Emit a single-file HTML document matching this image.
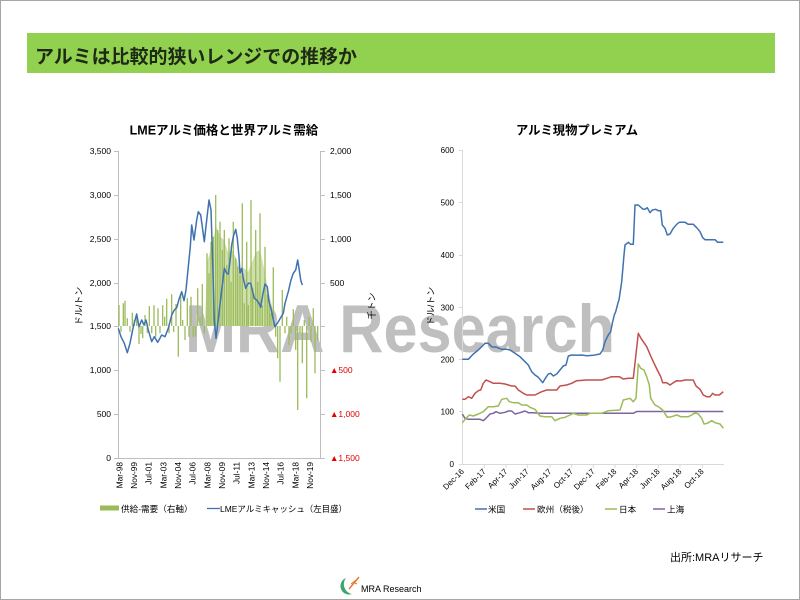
<!DOCTYPE html>
<html><head><meta charset="utf-8">
<style>
html,body{margin:0;padding:0;background:#fff;}
svg{display:block;font-family:"Liberation Sans","Noto Sans CJK JP",sans-serif;}
</style></head>
<body>
<svg width="800" height="600" viewBox="0 0 800 600" xmlns="http://www.w3.org/2000/svg">
<rect x="0.5" y="0.5" width="799" height="599" fill="#fff" stroke="#a6a6a6" stroke-width="1"/>
<!-- title bar -->
<rect x="27" y="33" width="748" height="40" fill="#92d050"/>
<text x="35" y="63" font-size="19" font-weight="bold" fill="#1d2a14" textLength="322" lengthAdjust="spacingAndGlyphs">アルミは比較的狭いレンジでの推移か</text>

<!-- watermark -->
<text x="185" y="352" font-size="68" font-weight="bold" fill="#bfbfbf" textLength="430" lengthAdjust="spacingAndGlyphs">MRA Research</text>

<!-- ============ LEFT CHART ============ -->
<text x="224" y="134.5" font-size="12.5" font-weight="bold" text-anchor="middle" fill="#000">LMEアルミ価格と世界アルミ需給</text>
<g stroke="#bfbfbf" stroke-width="1" fill="none">
<line x1="118.5" y1="151" x2="118.5" y2="458.5"/>
<line x1="320.5" y1="151" x2="320.5" y2="458.5"/>
<line x1="118" y1="458.5" x2="321" y2="458.5"/>
<path d="M114 151.5H118M114 195.5H118M114 239.5H118M114 283.5H118M114 326.5H118M114 370.5H118M114 414.5H118M114 458.5H118"/>
<path d="M321 151.5H325M321 195.5H325M321 239.5H325M321 283.5H325M321 326.5H325M321 370.5H325M321 414.5H325M321 458.5H325"/>
</g>
<g font-size="8.5" fill="#000" text-anchor="end">
<text x="111" y="154">3,500</text>
<text x="111" y="198">3,000</text>
<text x="111" y="242">2,500</text>
<text x="111" y="286">2,000</text>
<text x="111" y="329">1,500</text>
<text x="111" y="373">1,000</text>
<text x="111" y="417">500</text>
<text x="111" y="461">0</text>
</g>
<g font-size="8.5" fill="#000">
<text x="330" y="154">2,000</text>
<text x="330" y="198">1,500</text>
<text x="330" y="242">1,000</text>
<text x="330" y="286">500</text>
</g>
<g font-size="8.5" fill="#e00000">
<text x="330" y="373">▲500</text>
<text x="330" y="417">▲1,000</text>
<text x="330" y="461">▲1,500</text>
</g>
<text transform="translate(82,306) rotate(-90)" font-size="9" text-anchor="middle" fill="#000">ドル/トン</text>
<text transform="translate(375,306) rotate(-90)" font-size="9" text-anchor="middle" fill="#000">千トン</text>
<g font-size="8.3" fill="#000" text-anchor="end">
<text transform="translate(122.3,462) rotate(-90)">Mar-98</text>
<text transform="translate(137,462) rotate(-90)">Nov-99</text>
<text transform="translate(151.6,462) rotate(-90)">Jul-01</text>
<text transform="translate(166.3,462) rotate(-90)">Mar-03</text>
<text transform="translate(181,462) rotate(-90)">Nov-04</text>
<text transform="translate(195.6,462) rotate(-90)">Jul-06</text>
<text transform="translate(210.3,462) rotate(-90)">Mar-08</text>
<text transform="translate(225,462) rotate(-90)">Nov-09</text>
<text transform="translate(239.7,462) rotate(-90)">Jul-11</text>
<text transform="translate(254.3,462) rotate(-90)">Mar-13</text>
<text transform="translate(269,462) rotate(-90)">Nov-14</text>
<text transform="translate(283.7,462) rotate(-90)">Jul-16</text>
<text transform="translate(298.3,462) rotate(-90)">Mar-18</text>
<text transform="translate(313,462) rotate(-90)">Nov-19</text>
</g>
<polygon fill="#cfe0ae" points="205,326 207,262 212,246 216,226 220,236 224,240 228,252 232,250 236,258 240,270 244,268 248,272 252,262 256,252 260,250 264,268 268,290 272,306 274,326"/>
<path fill="none" stroke="#9bbb59" stroke-width="1.3" d="
M119 326V305 M121 326V331.7 M123.3 326V303.3 M125 326V300.7 M127.3 326V318.3 M130 326V331.7 M132.3 326V312.7 M134.3 326V320 M136.7 326V315 M139 326V344 M141 326V334 M142.7 326V338.3 M145 326V315 M147.3 326V333 M149.3 326V306 M151.7 326V333.3 M154 326V305.3 M155.7 326V336.7 M158 326V308.3 M160 326V333.3 M162.7 326V305.3 M164.7 326V316.7 M166.7 326V298.7 M169 326V333.3 M171.7 326V294.3 M173.7 326V332 M176 326V304 M178.3 326V356.7 M180.7 326V295 M182.7 326V320 M185 326V340 M187.3 326V298.3 M189 326V336.7 M191 326V296.7 M193.3 326V336.7 M195.7 326V336.7 M197.7 326V288.3 M200 326V316.7 M202.3 326V284 M204.3 326V333.3 M207 326V253.3 M209 326V273.3 M211 326V241.7 M213.3 326V236.7 M215.7 326V195 M217.7 326V230 M220 326V221.7 M222.3 326V250 M224.3 326V230 M226.7 326V265 M229 326V238.3 M231 326V281.7 M233.3 326V221.7 M235.7 326V258.3 M237.7 326V266.7 M240 326V275 M242.3 326V203.3 M244.3 326V303.3 M246.7 326V241.7 M248.3 326V305 M251 326V200 M252.7 326V288.3 M255.7 326V230 M257.7 326V281.7 M260 326V213.3 M262.3 326V305 M265 326V246.7 M267.3 326V295 M269.3 326V300 M271 326V313.3 M273.3 326V267.3 M275.7 326V336.7 M277.7 326V358.3 M280 326V381.7 M282.3 326V290 M285 326V333.3 M286.7 326V316.7 M289 326V345 M291 326V333.3 M293.3 326V309.3 M295.7 326V350 M297.7 326V410 M300 326V333.3 M302.3 326V363.3 M304.3 326V320 M306.7 326V398.3 M309 326V316.7 M311 326V341.7 M313.3 326V308.3 M315 326V373.3 M317.7 326V340"/>
<polyline fill="none" stroke="#3f72b0" stroke-width="1.5" stroke-linejoin="round" points="
118.3,328.3 121,336.7 124.3,343.3 127.3,352.7 130,343.3 133.3,326.7 136.7,314 139,326.7 141.7,320 144,325 146,320 148.3,330 151.7,341.7 154.3,336.7 157.7,342.3 161.7,335 165,336.7 168.3,328.3 171.7,315 174.3,310 176.7,307.7 179.3,298.3 181.7,291.7 184,300.7 186,290 188.3,266.7 190.3,246.7 191.7,225 194,240 196.7,220 198.3,211.7 200.7,215 202.3,226.7 204.3,241.7 206.7,220 209,200 211,210 212.7,263.3 214.3,320 216,338.3 219,313.3 221.7,290 224.3,268.3 226.7,273.3 228.3,274 230,261.7 231.7,245 233.3,236.7 235.7,229.3 237.3,238.3 239,256.7 240,273.3 241.7,268.3 243.3,278.3 245.7,288.3 248.3,283.3 250.7,283.3 252.7,291.7 254.3,298.3 256.7,300 259,303.3 260.7,307.3 262.7,295 265,284 267.3,286.7 269,301.7 271,308.3 273.3,320 275,326.7 277.7,322.7 280.3,318.3 283.3,313.3 285,303.3 286.7,297.3 288.3,291.7 291,280 293.3,273.3 295.7,270 297.7,260 299,268.3 300.7,280 302.3,285"/>
<rect x="100" y="505.5" width="19" height="5" fill="#9bbb59"/>
<text x="121" y="512" font-size="8.6" fill="#000">供給-需要（右軸）</text>
<line x1="207" y1="508.5" x2="220" y2="508.5" stroke="#3f72b0" stroke-width="1.3"/>
<text x="220" y="512" font-size="8.6" fill="#000" textLength="127" lengthAdjust="spacingAndGlyphs">LMEアルミキャッシュ（左目盛）</text>

<!-- ============ RIGHT CHART ============ -->
<text x="577" y="134.5" font-size="12.3" font-weight="bold" text-anchor="middle" fill="#000">アルミ現物プレミアム</text>
<g stroke="#d9d9d9" stroke-width="1" fill="none">
<line x1="462.5" y1="150" x2="462.5" y2="464.5"/>
<line x1="462" y1="464.5" x2="724" y2="464.5"/>
<path d="M459 150.5H462M459 202.5H462M459 255.5H462M459 307.5H462M459 359.5H462M459 411.5H462M459 464.5H462"/>
<path d="M484.3 464V468M506 464V468M527.3 464V468M550 464V468M571.7 464V468M593.3 464V468M615 464V468M636.7 464V468M658.3 464V468M680 464V468M702.3 464V468"/>
</g>
<g font-size="8" fill="#000" text-anchor="end">
<text x="454" y="153">600</text>
<text x="454" y="205.3">500</text>
<text x="454" y="258">400</text>
<text x="454" y="310.3">300</text>
<text x="454" y="362.3">200</text>
<text x="454" y="414.7">100</text>
<text x="454" y="467">0</text>
</g>
<text transform="translate(434,306) rotate(-90)" font-size="9" text-anchor="middle" fill="#000">ドル/トン</text>
<g font-size="8" fill="#000" text-anchor="end">
<text transform="translate(464.5,472) rotate(-45)">Dec-16</text>
<text transform="translate(486.3,472) rotate(-45)">Feb-17</text>
<text transform="translate(508,472) rotate(-45)">Apr-17</text>
<text transform="translate(529.3,472) rotate(-45)">Jun-17</text>
<text transform="translate(552,472) rotate(-45)">Aug-17</text>
<text transform="translate(573.7,472) rotate(-45)">Oct-17</text>
<text transform="translate(595.3,472) rotate(-45)">Dec-17</text>
<text transform="translate(617,472) rotate(-45)">Feb-18</text>
<text transform="translate(638.7,472) rotate(-45)">Apr-18</text>
<text transform="translate(660.3,472) rotate(-45)">Jun-18</text>
<text transform="translate(682,472) rotate(-45)">Aug-18</text>
<text transform="translate(704.3,472) rotate(-45)">Oct-18</text>
</g>
<polyline fill="none" stroke="#7f63a1" stroke-width="1.5" stroke-linejoin="round" points="462.3,414 465,418.3 468.3,419.3 480,419.3 483.3,420.7 486,418.3 490,414 493.3,413.3 496,411.7 500,413.3 505,412.3 508.3,411 511.7,411 515,414 520,412.7 525,411 528.3,412.7 533.3,412.7 540,413.3 546.7,413.3 560,413.3 633.3,413.3 636.7,411.5 723.3,411.5"/>
<polyline fill="none" stroke="#9bbb59" stroke-width="1.5" stroke-linejoin="round" points="462.3,422.7 466,418.3 469.3,415 473.3,416 478.3,414 483.3,411.7 488.3,406.7 493.3,406.7 498.3,406 501.7,399.3 506.7,398.3 509.3,401.7 513.3,402.7 518.3,402.7 521.7,405 526.7,405 530,407.3 535,409.3 540,416 545,416.7 551.7,416.7 555,420.7 560,418.3 565,417.3 570,415 573.3,413.3 578.3,415 586.7,415 590,413.3 601.7,413.3 608.3,410.7 620,410 623.3,400 630,398.3 633.3,401.7 636,398.3 638.3,364 640.7,368.3 644,370 646.7,376.7 649.3,385 650.7,398.3 655,405 658.3,406.7 662.7,410 667.3,417.3 671.7,416.7 676.7,415 680.7,416.7 688.3,416.7 691.7,415 695,412.7 698.3,414 701.7,418.3 704,424 707.3,423.3 711.7,420.7 715,422.7 720,424 723.3,428.3"/>
<polyline fill="none" stroke="#c0504d" stroke-width="1.5" stroke-linejoin="round" points="462.3,399.3 465,399.3 468.3,396.7 471.7,398.3 475,393.3 478.3,390.7 480.7,390 483.3,383.3 486,380 490,381.7 493.3,383.3 500,383.3 505,384 511.7,386 515,386 518.3,390 523.3,393.3 526.7,395 535,395 541.7,391.7 546.7,390 556.7,390 560,386 566.7,385 571.7,383.3 576.7,380.7 586.7,380 601.7,380 606.7,378.3 611.7,376.7 619.3,376.7 623.3,379 628.3,378.3 633.3,378.3 635.7,356.7 638.3,333.3 641,338.3 643.3,341.7 646.7,346.7 650.7,356 653.3,361.7 657.3,370 660.7,376.7 662.7,382.7 666.7,382.7 670,385 674,382.3 676.7,380.7 680.7,381 685,380 693.3,380 696,386 700,389.3 703.3,395 706.7,396.7 710,396.7 712.7,393.3 715,395 719.3,395 723.3,391.7"/>
<polyline fill="none" stroke="#3f72b0" stroke-width="1.5" stroke-linejoin="round" points="462.3,359.3 468.3,359.3 473.3,354 478.3,350 481.7,346.7 485,343.3 488.3,343.3 491.7,346.7 496.7,347.3 501.7,349.3 506.7,349.3 510,350 515,353.3 520,356.7 525,361.7 528.3,365 531.7,371.7 535,375 538.3,377.3 542.7,382.7 546,377.3 548.3,374 550.7,373.3 553.3,376 556.7,374 560,370 563.3,366 566,365 568.3,356 571.7,355 576.7,355.3 581.7,355 586.7,355.7 593.3,355.3 600,354 602.7,350 605,341.7 608.3,335 610.7,331.7 612.3,323.3 614.3,315 615.7,311.7 618.3,301.7 619,300 621.7,281.7 624,255 625,245 628.3,242.3 630.7,244.3 633.3,244.3 635,205 638.3,205 642.7,209 645,209.3 647.3,207.7 650,212.7 652.3,210 655.7,209.3 658.3,210.7 660.7,210.7 662.3,225 665,228.3 667.3,235 670,234 673.3,228.3 676.7,224.3 679.3,222.3 685,222.3 688.3,224.3 693.3,224.3 696.7,227.7 700,231.7 702.7,237.7 705,239.7 715,239.7 717.7,242.3 723.3,242.3"/>
<g font-size="8.6" fill="#000">
<line x1="475" y1="509" x2="487" y2="509" stroke="#3f72b0" stroke-width="1.5"/>
<text x="488" y="512.5">米国</text>
<line x1="523" y1="509" x2="535" y2="509" stroke="#c0504d" stroke-width="1.5"/>
<text x="537" y="512.5">欧州（税後）</text>
<line x1="605" y1="509" x2="617" y2="509" stroke="#9bbb59" stroke-width="1.5"/>
<text x="619" y="512.5">日本</text>
<line x1="653" y1="509" x2="665" y2="509" stroke="#7f63a1" stroke-width="1.5"/>
<text x="667" y="512.5">上海</text>
</g>

<!-- footer -->
<text x="670" y="561" font-size="11" fill="#000">出所:MRAリサーチ</text>
<g>
<path d="M346 578 A8 8 0 0 0 352 594 A10 10 0 0 1 346 578 Z" fill="#3aa66a"/>
<line x1="349" y1="589" x2="359" y2="577" stroke="#e8782a" stroke-width="1.4"/>
<path d="M353 582 L357 584 M351 584 L356 580" stroke="#e8782a" stroke-width="1"/>
<text x="361" y="592" font-size="9" fill="#000">MRA Research</text>
</g>
</svg>
</body></html>
